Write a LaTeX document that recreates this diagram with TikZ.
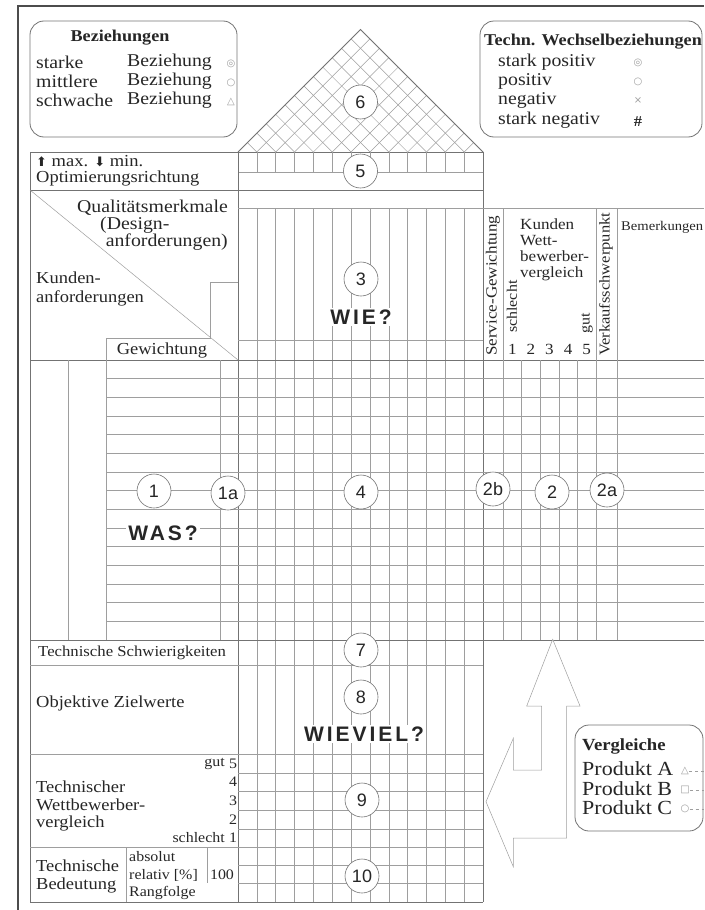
\documentclass[tikz,border=0pt]{standalone}
\usepackage{fontspec}
\setmainfont{Liberation Serif}[FakeStretch=1.1]
\newfontfamily\sansnum{Liberation Sans}
\newfontfamily\sansask{Liberation Sans}[LetterSpace=14]
\newfontfamily\symb{DejaVu Sans}
\usetikzlibrary{calc}
\definecolor{ink}{gray}{0.15}
\definecolor{rulec}{gray}{0.62}
\definecolor{wallc}{gray}{0.45}
\definecolor{framec}{gray}{0.3}

\begin{document}
\begin{tikzpicture}[x=1pt, y=-1pt,
    ruling/.style={draw=rulec, line width=0.5pt},
    wall/.style={draw=wallc, line width=0.8pt},
    legendbox/.style={draw=wallc, line width=0.8pt, rounded corners=14pt},
    txtL/.style={inner sep=0pt, text=ink, font=\fontsize{18}{19}\selectfont},
    txtP/.style={inner sep=0pt, text=ink, font=\fontsize{20}{20}\selectfont},
    txtM/.style={inner sep=0pt, text=ink, font=\fontsize{16.8}{18}\selectfont},
    txtS/.style={inner sep=0pt, text=ink, font=\fontsize{15.5}{15.8}\selectfont},
    txtXS/.style={inner sep=0pt, text=ink, font=\fontsize{14.5}{15}\selectfont},
    head/.style={inner sep=0pt, text=ink, font=\bfseries\fontsize{16.5}{18}\selectfont},
    sym/.style={inner sep=0pt, text=rulec, font=\symb\fontsize{10}{10}\selectfont},
    num/.style={circle, draw=wallc, line width=0.6pt, fill=white, minimum size=34pt,
      inner sep=0pt, text=ink, font=\sansnum\fontsize{18}{18}\selectfont},
    ask/.style={inner sep=2pt, fill=white, text=ink, font=\sansask\bfseries\fontsize{21}{21}\selectfont}
  ]
    \def\cw{18.846}
    \def\rh{18.667}
    \useasboundingbox (0,0) rectangle (704,910);

    % Frame
    \draw[draw=framec, line width=1.6pt] (18,910) -- (18,6) -- (704,6);

    % Legend: Beziehungen
    \draw[legendbox] (30,21) rectangle (237,137);
    \node[head] (bez) at (120,38) {Beziehungen};
    \node[txtL, anchor=west] (bz1) at (36,62) {starke};
    \node[txtL, anchor=west] (bz2) at (36,81) {mittlere};
    \node[txtL, anchor=west] (bz3) at (36,100) {schwache};
    \node[txtL, anchor=west] (bzb1) at (127,62) {Beziehung};
    \node[txtL, anchor=west] (bzb2) at (127,81) {Beziehung};
    \node[txtL, anchor=west] (bzb3) at (127,100) {Beziehung};
    \node[sym] (bzs1) at (231,64) {◎};
    \node[sym] (bzs2) at (231,83) {○};
    \node[sym] (bzs3) at (231,102) {△};

    % Legend: Wechselbeziehungen
    \draw[legendbox] (480,21) rectangle (702,137);
    \node[head, anchor=west] (wb) at (484,42) {Techn. Wechselbeziehungen};
    \node[txtL, anchor=west] (wb1) at (498,62) {stark positiv};
    \node[txtL, anchor=west] (wb2) at (498,81) {positiv};
    \node[txtL, anchor=west] (wb3) at (498,100) {negativ};
    \node[txtL, anchor=west] (wb4) at (498,120) {stark negativ};
    \node[sym] (wbs1) at (638,63) {◎};
    \node[sym] (wbs2) at (638,82) {○};
    \node[sym] (wbs3) at (638,101) {×};
    \node[inner sep=0pt, text=ink, font=\bfseries\fontsize{15}{15}\selectfont] (wbs4) at (638,122) {\#};

    % Roof (6)
    \begin{scope}
      \clip (238,152) -- (360.5,29.5) -- (483,152) -- cycle;
      \foreach \k in {0,...,13} {
        \draw[ruling] ({238+\k*\cw},152) -- ++(-140,-140);
        \draw[ruling] ({238+\k*\cw},152) -- ++(140,-140);
      }
    \end{scope}
    \draw[wall] (238,152) -- (360.5,29.5) -- (483,152);

    % Row 5 and Optimierungsrichtung
    \draw[wall] (238,152) rectangle (483,190);
    \draw[ruling] (238,172) -- (483,172);
    \foreach \k in {1,...,12}
      \draw[ruling] ({238+\k*\cw},152) -- ({238+\k*\cw},172);
    \draw[wall] (30,152) rectangle (238,190);

    % Walls
    \draw[wall] (30,190) -- (30,902);
    \draw[wall] (238,190) -- (238,902);
    \draw[wall] (483,190) -- (483,902);

    % Corner box with diagonal
    \draw[ruling] (30,190) -- (238,360);
    \draw[ruling] (106,360) |- (210,338) |- (238,282);

    % WIE header
    \draw[ruling] (238,208) -- (704,208);
    \draw[ruling] (238,340) -- (483,340);
    \foreach \k in {1,...,12}
      \draw[ruling] ({238+\k*\cw},208) -- ({238+\k*\cw},902);

    % Body rows
    \draw[wall] (30,360) -- (704,360);
    \foreach \i in {1,...,14}
      \draw[ruling] (106,{360+\i*\rh}) -- (704,{360+\i*\rh});
    \draw[wall] (30,640) -- (704,640);
    \foreach \x in {68,106,220}
      \draw[ruling] (\x,360) -- (\x,640);

    % Right columns
    \foreach \x in {503,596,617}
      \draw[ruling] (\x,208) -- (\x,640);
    \foreach \j in {1,...,4}
      \draw[ruling] ({503+\j*18.6},360) -- ({503+\j*18.6},640);

    % Lower part
    \foreach \y in {665,754,847}
      \draw[ruling] (30,\y) -- (483,\y);
    \draw[wall] (30,902) -- (483,902);
    \foreach \y in {773,791,810,829,865,883}
      \draw[ruling] (238,\y) -- (483,\y);
    \draw[ruling] (126,847) -- (126,902);
    \draw[ruling] (207,847) -- (207,883);

    % Double arrow
    \draw[ruling, fill=white] (552.7,639.3) -- (580,706) -- (566.7,706) -- (566.7,838)
      -- (513.3,838) -- (513.3,866.7) -- (486,801.7) -- (513.3,738.3) -- (513.3,770)
      -- (541.7,770) -- (541.7,706) -- (526.7,706) -- cycle;

    % Texts left
    \node[txtM, anchor=west] (opt1) at (36,161) {{\symb\fontsize{13}{13}\selectfont ⬆} max. {\symb\fontsize{13}{13}\selectfont ⬇} min.};
    \node[txtM, anchor=west] (opt2) at (36,178) {Optimierungsrichtung};
    \node[txtL, anchor=east] (qm1) at (228,208) {Qualitätsmerkmale};
    \node[txtL, anchor=west] (qm2) at (100,225) {(Design-};
    \node[txtL, anchor=east] (qm3) at (228,242) {anforderungen)};
    \node[txtM, anchor=west] (ka1) at (36,278) {Kunden-};
    \node[txtM, anchor=west] (ka2) at (36,298) {anforderungen};
    \node[txtM] (gew) at (162,350) {Gewichtung};

    % Texts right header
    \node[txtS, rotate=90, anchor=west] (svc) at (493,356) {Service-Gewichtung};
    \node[txtXS, rotate=90, anchor=west] (schl) at (512,333) {schlecht};
    \node[txtXS, rotate=90, anchor=west] (gutr) at (587,334) {gut};
    \foreach \j/\t in {0/1,1/2,2/3,3/4,4/5}
      \node[txtS] (kv\t) at ({512.3+\j*18.6},349) {\t};
    \node[txtS, anchor=north west, align=left] (kwv) at (520,219) {Kunden\\Wett-\\bewerber-\\vergleich};
    \node[inner sep=0pt, text=ink, font=\fontsize{15}{15}\selectfont, rotate=90, anchor=west] (vsp) at (606,356) {Verkaufsschwerpunkt};
    \node[inner sep=0pt, text=ink, font=\fontsize{13.3}{14}\selectfont, anchor=west] (bem) at (621,227) {Bemerkungen};

    % Texts bottom left
    \node[inner sep=0pt, text=ink, font=\fontsize{15.2}{16}\selectfont, anchor=west] (tsw) at (38,653) {Technische Schwierigkeiten};
    \node[txtM, anchor=west] (ozw) at (36,703) {Objektive Zielwerte};
    \node[txtXS, anchor=east] (tg) at (225,764) {gut};
    \node[txtXS, anchor=east] (ts) at (225,838) {schlecht};
    \foreach \t/\y in {5/764,4/782,3/800.5,2/819.5,1/838}
      \node[txtXS] (tw\t) at (233,\y) {\t};
    \node[txtM, anchor=west] (tw1a) at (36,787) {Technischer};
    \node[txtM, anchor=west] (tw2a) at (36,805) {Wettbewerber-};
    \node[txtM, anchor=west] (tw3a) at (36,823) {vergleich};
    \node[txtM, anchor=west] (tb1) at (36,866) {Technische};
    \node[txtM, anchor=west] (tb2) at (36,885) {Bedeutung};
    \node[txtXS, anchor=west] (abs) at (129,857) {absolut};
    \node[txtXS, anchor=west] (rel) at (129,875) {relativ [\%]};
    \node[txtXS, anchor=west] (rang) at (129,893) {Rangfolge};
    \node[txtXS] (hundert) at (222,875) {100};

    % Legend: Vergleiche
    \draw[legendbox, fill=white] (575,725) rectangle (703,831);
    \node[head, font=\bfseries\fontsize{17}{18}\selectfont, anchor=west] (vgl) at (582,746) {Vergleiche};
    \node[txtP, anchor=west] (pa) at (582,769) {Produkt A};
    \node[txtP, anchor=west] (pb) at (582,789) {Produkt B};
    \node[txtP, anchor=west] (pc) at (582,808) {Produkt C};
    \node[sym] (sa) at (685,771) {△};
    \node[sym] (sb) at (685,790) {□};
    \node[sym] (sc) at (685,809) {○};
    \coordinate (ea) at (704,771);
    \coordinate (eb) at (704,790);
    \coordinate (ec) at (704,809);
    \draw[ruling, dashed] (sa) -- (ea);
    \draw[ruling, dashed] (sb) -- (eb);
    \draw[ruling, dashed] (sc) -- (ec);

    % Numbered fields
    \node[num] (n6) at (360.5,102) {6};
    \node[num] (n5) at (360.5,171) {5};
    \node[num] (n3) at (361,279) {3};
    \node[num] (n4) at (361,492) {4};
    \node[num] (n1) at (154,491) {1};
    \node[num] (n1a) at (228,493) {1a};
    \node[num] (n2b) at (493,489) {2b};
    \node[num] (n2) at (552,492) {2};
    \node[num] (n2a) at (607,490) {2a};
    \node[num] (n7) at (361,650) {7};
    \node[num] (n8) at (361,697) {8};
    \node[num] (n9) at (362,800) {9};
    \node[num] (n10) at (362,876) {10};

    % Questions
    \node[ask] (was) at (163,533) {WAS?};
    \node[ask] (wie) at (361,317) {WIE?};
    \node[ask] (wieviel) at (364,734) {WIEVIEL?};
  \end{tikzpicture}
\end{document}
